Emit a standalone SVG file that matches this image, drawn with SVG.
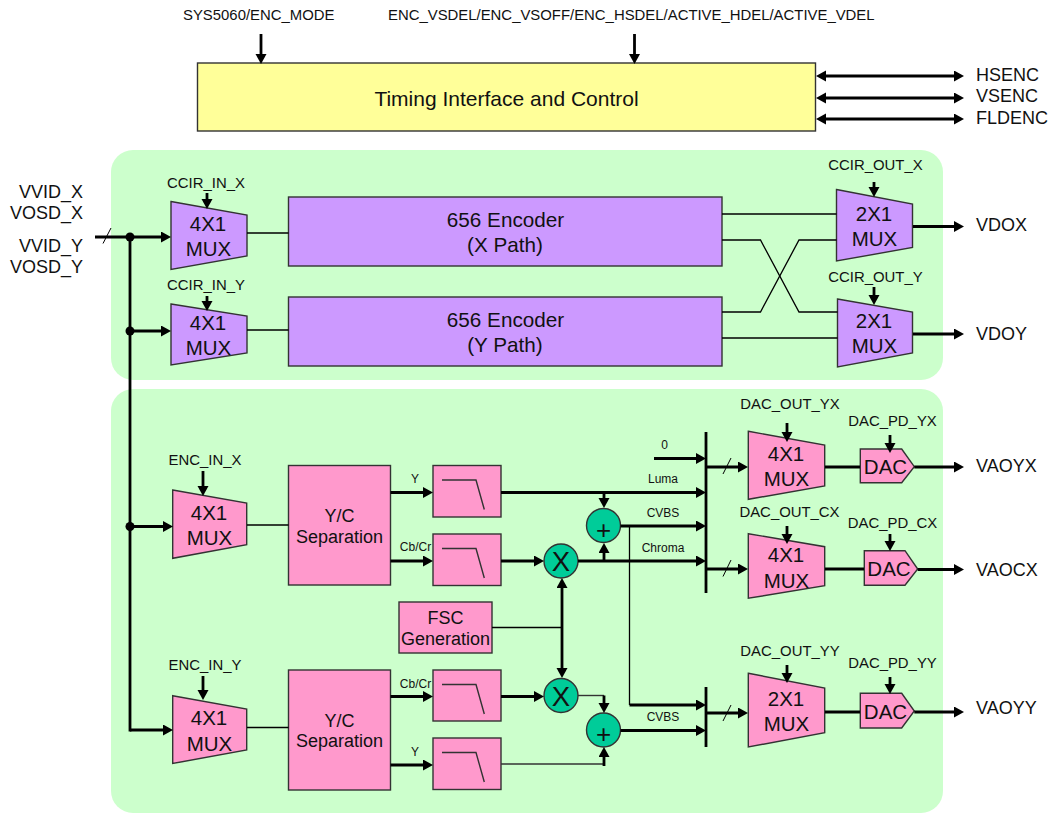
<svg xmlns="http://www.w3.org/2000/svg" width="1048" height="813" viewBox="0 0 1048 813">
<style>
text{font-family:"Liberation Sans",Arial,sans-serif;fill:#111}
.s{font-size:14.900px}.m{font-size:18px}.l{font-size:20.500px}.e{font-size:20.700px}.t{font-size:12px}.h{font-size:21px}
.c{text-anchor:middle}.r{text-anchor:end}
.b{stroke:#333;stroke-width:1.400}
.pu{fill:#CC99FF}.pi{fill:#FF99CC}.ye{fill:#FFFF99}.gr{fill:#00CC99}
.k{fill:none;stroke:#000;stroke-width:2.800}
.a{marker-end:url(#ah)}.d{marker-start:url(#ah);marker-end:url(#ah)}
.n{fill:none;stroke:#000;stroke-width:1.300}
.g{fill:none;stroke:#333;stroke-width:1.400}
.x{fill:none;stroke:#000;stroke-width:1}
.dot{fill:#000}
</style>
<defs>
<marker id="ah" markerUnits="userSpaceOnUse" markerWidth="11" markerHeight="12" refX="4" refY="5.500" orient="auto-start-reverse"><path d="M0 0L10 5.500L0 11z" fill="#000"/></marker>
</defs>
<rect id="panel-top" x="111" y="150" width="832" height="230" rx="22" fill="#CCFFCC"/>
<rect id="panel-bottom" x="111" y="389" width="832" height="424" rx="22" fill="#CCFFCC"/>

<g id="timing"><rect class="b ye" x="197.500" y="63" width="618" height="68"/><text class="h c" x="506.500" y="106">Timing Interface and Control</text></g>

<g id="mux-ccir-x"><polygon class="b pu" points="171,201.500 247,215 247,256 171,269.500"/><text class="l c" x="208" y="231">4X1</text><text class="l c" x="208.500" y="256">MUX</text></g>
<g id="mux-ccir-y"><polygon class="b pu" points="171,304 247,316 247,353 171,365"/><text class="l c" x="208" y="330">4X1</text><text class="l c" x="208.500" y="355">MUX</text></g>
<g id="enc-x"><rect class="b pu" x="288.500" y="197" width="433.500" height="69"/><text class="e c" x="505.500" y="227">656 Encoder</text><text class="e c" x="505" y="252">(X Path)</text></g>
<g id="enc-y"><rect class="b pu" x="288.500" y="297" width="433.500" height="69"/><text class="e c" x="505.500" y="327">656 Encoder</text><text class="e c" x="505" y="352">(Y Path)</text></g>
<g id="mux-out-x"><polygon class="b pu" points="836.500,189.500 912.500,204 912.500,247.500 836.500,261"/><text class="l c" x="874" y="221">2X1</text><text class="l c" x="874.500" y="246">MUX</text></g>
<g id="mux-out-y"><polygon class="b pu" points="837.500,299 912.500,312 912.500,353 837.500,367"/><text class="l c" x="874" y="328">2X1</text><text class="l c" x="874.500" y="353">MUX</text></g>

<g id="mux-enc-x"><polygon class="b pi" points="172.700,490 246.700,503 246.700,544.700 172.700,558.300"/><text class="l c" x="209" y="520">4X1</text><text class="l c" x="209.500" y="545">MUX</text></g>
<g id="mux-enc-y"><polygon class="b pi" points="172.700,695.700 246.700,709 246.700,750 172.700,763.500"/><text class="l c" x="209" y="725">4X1</text><text class="l c" x="209.500" y="751">MUX</text></g>
<g id="yc-x"><rect class="b pi" x="288.500" y="465.500" width="102" height="119.500"/><text class="m c" x="339.500" y="522">Y/C</text><text class="m c" x="339.500" y="543">Separation</text></g>
<g id="yc-y"><rect class="b pi" x="288.500" y="670" width="102" height="120"/><text class="m c" x="339.500" y="727">Y/C</text><text class="m c" x="339.500" y="747">Separation</text></g>
<g id="lpf-1"><rect class="b pi" x="433" y="465.500" width="68" height="51.500"/><path class="g" d="M442 480H476L484.300 509.500"/></g>
<g id="lpf-2"><rect class="b pi" x="433" y="534" width="68" height="51.500"/><path class="g" d="M442 548.500H476L484.300 578"/></g>
<g id="lpf-3"><rect class="b pi" x="433" y="670" width="68" height="51"/><path class="g" d="M442 684.500H476L484.300 714"/></g>
<g id="lpf-4"><rect class="b pi" x="433" y="738" width="68" height="51.500"/><path class="g" d="M442 752.500H476L484.300 782"/></g>
<g id="fsc"><rect class="b pi" x="399" y="602" width="93" height="51"/><text class="m c" x="445.500" y="624">FSC</text><text class="m c" x="445.500" y="645">Generation</text></g>
<g id="mult-1"><circle class="b gr" cx="561" cy="561" r="17"/><text class="c" font-size="27.500" x="561" y="571">X</text></g>
<g id="mult-2"><circle class="b gr" cx="561" cy="695.500" r="17"/><text class="c" font-size="27.500" x="561" y="705.500">X</text></g>
<g id="add-1"><circle class="b gr" cx="603.500" cy="525.500" r="17"/><text class="c" font-size="26" x="603.500" y="539">+</text></g>
<g id="add-2"><circle class="b gr" cx="603.500" cy="730" r="17"/><text class="c" font-size="26" x="603.500" y="743">+</text></g>
<g id="mux-yx"><polygon class="b pi" points="748.300,431.300 824.700,445 824.700,486 748.300,499.300"/><text class="l c" x="786" y="461">4X1</text><text class="l c" x="786.500" y="486">MUX</text></g>
<g id="mux-cx"><polygon class="b pi" points="748.300,533.700 824.700,546.700 824.700,585.700 748.300,598.300"/><text class="l c" x="786" y="562">4X1</text><text class="l c" x="786.500" y="588">MUX</text></g>
<g id="mux-yy"><polygon class="b pi" points="748.300,673.300 824.700,688 824.700,732.700 748.300,747"/><text class="l c" x="786" y="706">2X1</text><text class="l c" x="786.500" y="731">MUX</text></g>
<g id="dac-yx"><polygon class="b pi" points="860.300,449 901.700,449 914.300,466.700 901.700,482.700 860.300,482.700"/><text class="l c" x="885.500" y="474">DAC</text></g>
<g id="dac-cx"><polygon class="b pi" points="864.300,550.700 905,550.700 917.700,569 905,585.300 864.300,585.300"/><text class="l c" x="889" y="576">DAC</text></g>
<g id="dac-yy"><polygon class="b pi" points="860.300,693.300 901.700,693.300 914.300,711 901.700,728 860.300,728"/><text class="l c" x="885.500" y="719">DAC</text></g>

<g id="labels">
<text class="s" x="183" y="20">SYS5060/ENC_MODE</text>
<text class="s" x="388" y="20">ENC_VSDEL/ENC_VSOFF/ENC_HSDEL/ACTIVE_HDEL/ACTIVE_VDEL</text>
<text class="m" x="976" y="81">HSENC</text><text class="m" x="976" y="102">VSENC</text><text class="m" x="976" y="124">FLDENC</text>
<text class="m r" x="83" y="198">VVID_X</text><text class="m r" x="83" y="219">VOSD_X</text><text class="m r" x="83" y="252">VVID_Y</text><text class="m r" x="83" y="273">VOSD_Y</text>
<text class="s c" x="206" y="188">CCIR_IN_X</text><text class="s c" x="206" y="290">CCIR_IN_Y</text>
<text class="s c" x="875.500" y="170">CCIR_OUT_X</text><text class="s c" x="875.500" y="282">CCIR_OUT_Y</text>
<text class="m" x="976" y="231">VDOX</text><text class="m" x="976" y="340">VDOY</text>
<text class="s c" x="205" y="465">ENC_IN_X</text><text class="s c" x="205" y="670">ENC_IN_Y</text>
<text class="s c" x="790" y="409">DAC_OUT_YX</text><text class="s c" x="892.500" y="426">DAC_PD_YX</text>
<text class="s c" x="789.500" y="517">DAC_OUT_CX</text><text class="s c" x="892.500" y="528">DAC_PD_CX</text>
<text class="s c" x="790" y="656">DAC_OUT_YY</text><text class="s c" x="892.500" y="668">DAC_PD_YY</text>
<text class="m" x="976" y="472">VAOYX</text><text class="m" x="976" y="576">VAOCX</text><text class="m" x="976" y="714">VAOYY</text>
<text class="t c" x="415" y="483">Y</text><text class="t c" x="415.500" y="551">Cb/Cr</text><text class="t c" x="415.500" y="688">Cb/Cr</text><text class="t c" x="415" y="756">Y</text>
<text class="t c" x="664.500" y="449">0</text><text class="t c" x="663" y="483">Luma</text><text class="t c" x="663" y="517">CVBS</text><text class="t c" x="663" y="552">Chroma</text><text class="t c" x="663" y="721">CVBS</text>
</g>

<g id="connectors">
<path class="k a" d="M261 34V58"/><path class="k a" d="M634.500 34V58"/>
<path class="k d" d="M822 76H958"/><path class="k d" d="M822 98H958"/><path class="k d" d="M822 119H958"/>
<path class="k a" d="M95 237H165"/><path class="k a" d="M130 331H165"/><path class="k a" d="M130 526.500H167"/><path class="k a" d="M130 730H167"/>
<path class="k" d="M130 237V731.400"/>
<circle class="dot" cx="130" cy="237" r="4.500"/><circle class="dot" cx="130" cy="331" r="4.500"/><circle class="dot" cx="130" cy="526.500" r="4.500"/>
<path class="x" d="M103 243.500L111 228"/>
<path class="k a" d="M207 193V203"/><path class="k a" d="M207 296V305"/><path class="k a" d="M874 182V191"/><path class="k a" d="M874 287V299"/>
<path class="k a" d="M203 471V490"/><path class="k a" d="M203 676V694"/>
<path class="n" d="M247 233H288.500"/><path class="n" d="M247 330H288.500"/><path class="n" d="M247 525H288.500"/><path class="n" d="M247 727.500H288.500"/>
<path class="n" d="M722 214H836.500"/><path class="n" d="M722 240H760.500L799 312H837.500"/><path class="n" d="M722 312H760.500L799 240H836.500"/><path class="n" d="M722 338H837.500"/>
<path class="k a" d="M913 226.500H958"/><path class="k a" d="M913 334H958"/>
<path class="k a" d="M390.500 492.500H427"/><path class="k a" d="M390.500 561H427"/><path class="k a" d="M390.500 696.500H427"/><path class="k a" d="M390.500 765H427"/>
<path class="k a" d="M501 492.500H700"/><path class="k a" d="M501 561H538"/><path class="k a" d="M501 696.500H538"/>
<path class="k a" d="M578 561H700"/>
<path class="k a" d="M604 492.500V502"/><path class="k a" d="M604 561V549"/>
<path class="k a" d="M620.500 526H700"/>
<path class="n" d="M629.500 526V705"/><path class="k a" d="M629.500 705H700"/>
<path class="k" d="M706 432V593"/><path class="k" d="M706 687V747"/>
<path class="k a" d="M654 458.500H700"/>
<path class="k a" d="M706 467H742"/><path class="k a" d="M706 569H742"/><path class="k a" d="M706 713H742"/>
<path class="x" d="M723 474L731 458"/><path class="x" d="M723 576.500L731 560"/><path class="x" d="M723 721L731 705"/>
<path class="n" d="M492 627.500H562"/>
<path class="k d" d="M562 584V672"/>
<path class="g" d="M578 695.500H604"/><path class="k a" d="M604 695.500V707"/>
<path class="g" d="M501 764H604"/><path class="k a" d="M604 766V753"/>
<path class="k a" d="M620.500 730.500H700"/>
<path class="k a" d="M787 423V436"/><path class="k a" d="M787 526V538"/><path class="k a" d="M787 665V677"/>
<path class="k a" d="M890 435V447"/><path class="k a" d="M890 534V545"/><path class="k a" d="M890 677V688"/>
<path class="k" d="M825 467H860"/><path class="k" d="M825 569H864"/><path class="k" d="M825 712H860"/>
<path class="k a" d="M914.300 467H958"/><path class="k a" d="M917.700 569.500H958"/><path class="k a" d="M914.300 712H958"/>
</g>
</svg>
